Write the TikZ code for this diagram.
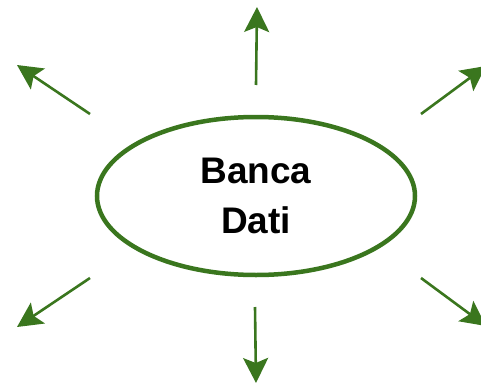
\documentclass[tikz,border=0pt]{standalone}
\usepackage{fontspec}
\setmainfont{Liberation Sans}
\usetikzlibrary{arrows.meta,shapes.geometric}
\definecolor{dbgreen}{RGB}{58,118,30}
\begin{document}
\begin{tikzpicture}[x=1pt,y=-1pt,
  out arrow/.style={draw=dbgreen, line width=2.6pt, -{Stealth[length=25pt,width=25pt,inset=5pt]}}]

\useasboundingbox (0,0) rectangle (481,385);

\node(db) [ellipse, draw=dbgreen, line width=4.5pt, minimum width=318pt, minimum height=158pt,
  font=\bfseries\fontsize{37}{50}\selectfont, align=center] at(256,196) {Banca\\Dati};

\begin{scope}
\coordinate(n0) at(256,85);  \coordinate(n1) at(257,7);
\coordinate(s0) at(255,307); \coordinate(s1) at(256,383);
\coordinate(nw0) at(90,114); \coordinate(nw1) at(17,65);
\coordinate(ne0) at(421,114); \coordinate(ne1) at(486,66);
\coordinate(sw0) at(90,278); \coordinate(sw1) at(17,327);
\coordinate(se0) at(421,278); \coordinate(se1) at(486,326);
\end{scope}

\draw[out arrow] (n0) -- (n1);
\draw[out arrow] (s0) -- (s1);
\draw[out arrow] (nw0) -- (nw1);
\draw[out arrow] (ne0) -- (ne1);
\draw[out arrow] (sw0) -- (sw1);
\draw[out arrow] (se0) -- (se1);

\end{tikzpicture}
\end{document}
